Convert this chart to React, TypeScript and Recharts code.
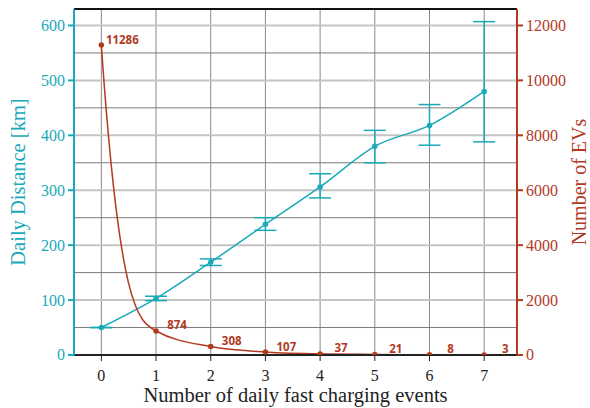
import React from "react";
import {
  ComposedChart,
  Line,
  XAxis,
  YAxis,
  ErrorBar,
  LabelList,
  ReferenceLine,
} from "recharts";

const events = [0, 1, 2, 3, 4, 5, 6, 7];
const distance = [50, 103, 169, 238, 306, 380, 418, 480];
const distanceErr: [number, number][] = [
  [0, 0],
  [4, 4],
  [6, 6],
  [11, 12],
  [20, 24],
  [30, 29],
  [36, 38],
  [92, 127],
];
const evCount = [11286, 874, 308, 107, 37, 21, 8, 3];
const distanceTicks = [0, 100, 200, 300, 400, 500, 600];
const evTicks = [0, 2000, 4000, 6000, 8000, 10000, 12000];
const majorGrid = [100, 200, 300, 400, 500, 600];
const minorGrid = [50, 150, 250, 350, 450, 550];

const data = events.map((e, i) => ({
  x: e,
  dist: distance[i],
  err: distanceErr[i],
  evs: evCount[i],
}));

const TEAL = "#1aa9b9";
const RED = "#b23a1f";
const SERIF = "Liberation Serif";

// Monotone cubic (in x) curve factory; optional steeper start tangent
const makeCurve = (steepStart: boolean) => (context: any) => {
  let xs: number[] = [];
  let ys: number[] = [];
  return {
    areaStart() {},
    areaEnd() {},
    lineStart() {
      xs = [];
      ys = [];
    },
    point(x: number, y: number) {
      xs.push(+x);
      ys.push(+y);
    },
    lineEnd() {
      const n = xs.length;
      if (n === 0) return;
      context.moveTo(xs[0], ys[0]);
      if (n === 1) return;
      if (n === 2) {
        context.lineTo(xs[1], ys[1]);
        return;
      }
      const s: number[] = [];
      for (let i = 0; i < n - 1; i++) s[i] = (ys[i + 1] - ys[i]) / (xs[i + 1] - xs[i]);
      const m: number[] = new Array(n).fill(0);
      for (let i = 1; i < n - 1; i++) {
        if (s[i - 1] * s[i] <= 0) {
          m[i] = 0;
        } else {
          const h0 = xs[i] - xs[i - 1];
          const h1 = xs[i + 1] - xs[i];
          const p = (s[i - 1] * h1 + s[i] * h0) / (h0 + h1);
          m[i] =
            (Math.sign(s[i - 1]) + Math.sign(s[i])) *
            Math.min(Math.abs(s[i - 1]), Math.abs(s[i]), 0.5 * Math.abs(p));
        }
      }
      m[0] = steepStart ? 3 * s[0] - 2 * m[1] : (3 * s[0] - m[1]) / 2;
      m[n - 1] = (3 * s[n - 2] - m[n - 2]) / 2;
      for (let i = 0; i < n - 1; i++) {
        const dx = (xs[i + 1] - xs[i]) / 3;
        context.bezierCurveTo(
          xs[i] + dx,
          ys[i] + dx * m[i],
          xs[i + 1] - dx,
          ys[i + 1] - dx * m[i + 1],
          xs[i + 1],
          ys[i + 1]
        );
      }
    },
  };
};

const blueCurve = makeCurve(false);
const redCurve = makeCurve(true);

const makeTick = (fill: string, dy: string) => (props: any) => {
  const { x, y, textAnchor, payload } = props;
  return (
    <text
      x={x}
      y={y}
      dy={dy}
      textAnchor={textAnchor}
      fill={fill}
      fontFamily={SERIF}
      fontSize={16}
    >
      {payload.value}
    </text>
  );
};

const EvLabel = (props: any) => {
  const { x, y, value } = props;
  return (
    <text
      x={x + 21}
      y={y - 6}
      textAnchor="middle"
      dominantBaseline="central"
      fill={RED}
      fontFamily="Open Sans"
      fontWeight={700}
      fontSize={11.5}
    >
      {value}
    </text>
  );
};

export default function App() {
  return (
    <div style={{ position: "absolute", left: 0, top: 0, fontFamily: SERIF }}>
      <ComposedChart
        width={590}
        height={408}
        data={data}
        margin={{ top: 9, right: 0, bottom: 0, left: 0 }}
      >
        <XAxis
          dataKey="x"
          type="number"
          domain={[-0.5, 7.6]}
          ticks={events}
          allowDataOverflow
          height={53}
          stroke="#222"
          strokeWidth={2}
          tickLine={{ stroke: "#222", strokeWidth: 1 }}
          tickSize={6}
          tickMargin={9}
          tick={makeTick("#222", "0.71em")}
          label={{
            value: "Number of daily fast charging events",
            position: "insideBottom",
            offset: 6,
            fill: "#222",
            fontFamily: SERIF,
            fontSize: 20.5,
          }}
        />
        <YAxis
          yAxisId="left"
          orientation="left"
          domain={[0, 630]}
          ticks={distanceTicks}
          allowDataOverflow
          width={74}
          stroke={TEAL}
          strokeWidth={2}
          tickSize={6}
          tickMargin={3}
          tickLine={{ stroke: TEAL }}
          tick={makeTick(TEAL, "0.34em")}
          label={{
            value: "Daily Distance [km]",
            angle: -90,
            position: "insideLeft",
            offset: 18,
            fill: TEAL,
            fontFamily: SERIF,
            fontSize: 20.5,
            style: { textAnchor: "middle" },
          }}
        />
        <YAxis
          yAxisId="right"
          orientation="right"
          domain={[0, 12600]}
          ticks={evTicks}
          allowDataOverflow
          width={73}
          stroke={RED}
          strokeWidth={2}
          tickSize={6}
          tickMargin={3}
          tickLine={{ stroke: RED }}
          tick={makeTick(RED, "0.34em")}
          label={{
            value: "Number of EVs",
            angle: -90,
            position: "insideRight",
            offset: 11,
            fill: RED,
            fontFamily: SERIF,
            fontSize: 20,
            style: { textAnchor: "middle" },
          }}
        />
        {events.map((e) => (
          <ReferenceLine
            key={"v" + e}
            x={e}
            yAxisId="left"
            stroke="#8a8a8a"
            strokeWidth={1}
          />
        ))}
        {majorGrid.map((v) => (
          <ReferenceLine
            key={"M" + v}
            y={v}
            yAxisId="left"
            stroke="#c4c4c4"
            strokeWidth={2}
          />
        ))}
        {minorGrid.map((v) => (
          <ReferenceLine
            key={"m" + v}
            y={v}
            yAxisId="left"
            stroke="#7a7a7a"
            strokeWidth={1}
          />
        ))}
        <ReferenceLine y={630} yAxisId="left" stroke="#111" strokeWidth={2} />
        <Line
          yAxisId="left"
          dataKey="dist"
          type={blueCurve as any}
          stroke={TEAL}
          strokeWidth={1.5}
          dot={{ r: 2, fill: TEAL, stroke: TEAL }}
          isAnimationActive={false}
        >
          <ErrorBar
            dataKey="err"
            direction="y"
            width={11}
            stroke={TEAL}
            strokeWidth={1.5}
          />
        </Line>
        <Line
          yAxisId="right"
          dataKey="evs"
          type={redCurve as any}
          stroke={RED}
          strokeWidth={1.5}
          dot={{ r: 2, fill: RED, stroke: RED }}
          isAnimationActive={false}
        >
          <LabelList dataKey="evs" content={EvLabel} />
        </Line>
      </ComposedChart>
    </div>
  );
}
